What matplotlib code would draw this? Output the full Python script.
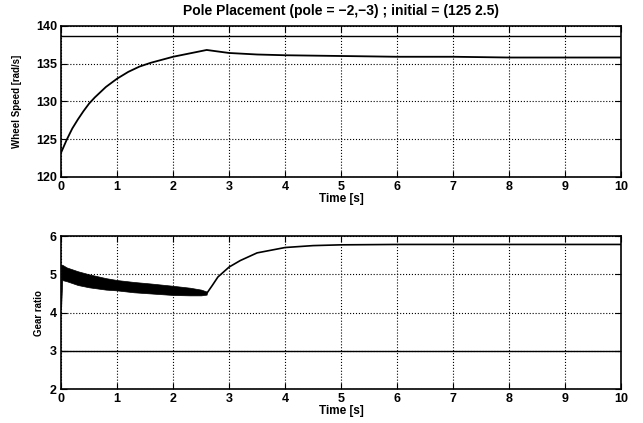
import numpy as np
import matplotlib.pyplot as plt

plt.rcParams['font.family'] = ['Liberation Sans', 'DejaVu Sans']
plt.rcParams['font.weight'] = 'bold'

# Vitesse de roue (rad/s)
t_w = [0, 0.1, 0.2, 0.3, 0.4, 0.5, 0.6, 0.8, 1.0, 1.2, 1.4, 1.6, 1.8, 2.0,
       2.2, 2.4, 2.6, 2.8, 3.0, 3.5, 4, 5, 6, 7, 8, 9, 10]
w = [123.2, 124.9, 126.4, 127.6, 128.7, 129.7, 130.5, 131.9, 133.0, 133.9,
     134.6, 135.1, 135.5, 135.9, 136.2, 136.5, 136.8, 136.6, 136.4, 136.2,
     136.1, 136.0, 135.9, 135.9, 135.8, 135.8, 135.8]
w_max = 138.7

# Rapport de boite : bande de commutation (enveloppes) puis courbe lisse
t_band = [0, 0.02, 0.1, 0.3, 0.5, 0.8, 1.0, 1.3, 1.6, 2.0, 2.3, 2.5, 2.6]
g_low = [4.1, 4.85, 4.82, 4.72, 4.66, 4.60, 4.58, 4.53, 4.50, 4.46, 4.45, 4.45, 4.47]
g_high = [5.25, 5.25, 5.18, 5.08, 5.00, 4.90, 4.85, 4.80, 4.76, 4.70, 4.65, 4.60, 4.55]

t_g = [2.6, 2.7, 2.8, 3.0, 3.2, 3.5, 4.0, 4.5, 5.0, 6.0, 7.0, 8.0, 10.0]
g = [4.5, 4.71, 4.93, 5.19, 5.36, 5.56, 5.70, 5.75, 5.77, 5.78, 5.78, 5.78, 5.78]
g_min = 3.0

fig = plt.figure(figsize=(6.43, 4.23), dpi=100)

ax1 = fig.add_axes([0.095, 0.582, 0.871, 0.357])
ax1.plot(t_w, w, 'k-', lw=1.3)
ax1.plot([0, 10], [w_max, w_max], 'k-', lw=1.0)
ax1.set_xlim(0, 10)
ax1.set_ylim(120, 140)
ax1.set_yticks([120, 125, 130, 135, 140])
ax1.set_xticks(range(11))
ax1.set_xlabel('Time [s]', fontsize=8.5, fontweight='bold', labelpad=0)
ax1.set_ylabel('Wheel Speed [rad/s]', fontsize=7, fontweight='bold', labelpad=10)
ax1.set_title('Pole Placement (pole = \u22122,\u22123) ; initial = (125 2.5)',
              fontsize=10, fontweight='bold', pad=8)
ax1.grid(True, color='k', linestyle=':', lw=0.8)

ax2 = fig.add_axes([0.095, 0.080, 0.871, 0.362])
ax2.fill_between(t_band, g_low, g_high, color='k', lw=0.5)
ax2.plot(t_g, g, 'k-', lw=1.2)
ax2.plot([0, 10], [g_min, g_min], 'k-', lw=1.0)
ax2.set_xlim(0, 10)
ax2.set_ylim(2, 6)
ax2.set_yticks([2, 3, 4, 5, 6])
ax2.set_xticks(range(11))
ax2.set_xlabel('Time [s]', fontsize=8.5, fontweight='bold', labelpad=0)
ax2.set_ylabel('Gear ratio', fontsize=7, fontweight='bold', labelpad=4)
ax2.grid(True, color='k', linestyle=':', lw=0.8)

for ax in (ax1, ax2):
    ax.tick_params(direction='in', length=4, labelsize=9, pad=3, top=True, right=True)
    for lab in ax.get_xticklabels() + ax.get_yticklabels():
        lab.set_fontweight('bold')
    for sp in ax.spines.values():
        sp.set_linewidth(1.2)

plt.savefig('out.png', dpi=100)
